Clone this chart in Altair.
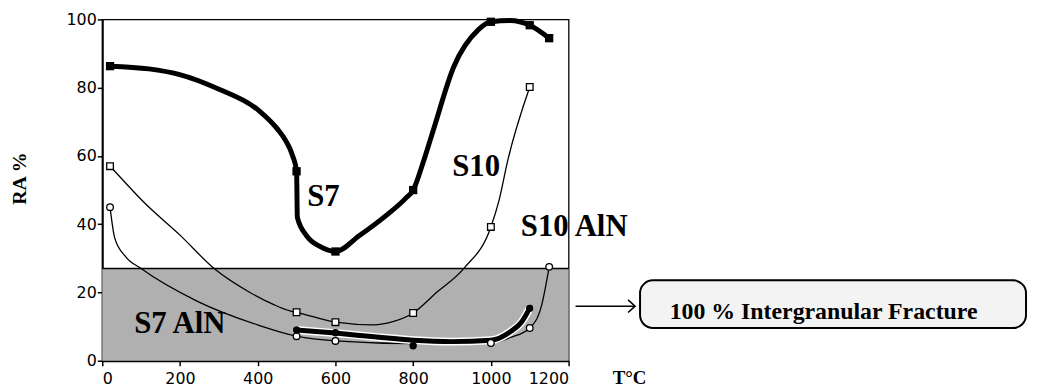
import altair as alt
import pandas as pd

# ---------------- data ----------------
X_TICKS = [0, 200, 400, 600, 800, 1000, 1200]
Y_TICKS = [0, 20, 40, 60, 80, 100]

# measured points (markers)
S7_T = [20, 500, 600, 800, 1000, 1100, 1150]
S7_RA = [86.3, 55.5, 32, 50, 99.3, 98.3, 94.5]
S10_T = [20, 500, 600, 800, 1000, 1100]
S10_RA = [57, 14.2, 11.3, 14, 39.2, 80.2]
S10ALN_T = [20, 500, 600, 1000, 1100, 1150]
S10ALN_RA = [45, 7.2, 5.8, 5.2, 9.6, 27.5]
S7ALN_T = [500, 600, 800, 1100]
S7ALN_RA = [9, 8.2, 4.4, 15.4]

# hand-drawn fitted curves
S7_CURVE_T = [20, 120, 197, 299, 403, 450, 472, 490, 500, 502, 526, 560, 600,
              661, 730, 780, 800, 824, 853, 904, 968, 1000, 1050, 1100, 1150]
S7_CURVE_RA = [86.3, 85.5, 83.9, 79.6, 73.3, 68, 64.5, 60, 55.5, 42, 36.6, 33.5, 32,
               36.6, 42.5, 47.5, 50, 57.5, 68, 86, 97, 99.3, 99.7, 98.3, 94.5]
S10_CURVE_T = [20, 77, 102, 200, 291, 380, 440, 483, 500, 600, 697, 750, 800, 860, 930,
               1000, 1021, 1043, 1100]
S10_CURVE_RA = [57, 50, 47, 36.8, 26.7, 20, 16.5, 14.6, 14.2, 11.3, 10.5, 11.5, 14, 20, 27,
                39.2, 47, 58.5, 80.2]
S10ALN_CURVE_T = [20, 32, 60, 100, 245, 400, 500, 600, 800, 1000, 1050, 1100, 1130, 1150]
S10ALN_CURVE_RA = [45, 36, 30.5, 27, 17.4, 10.5, 7.2, 5.8, 5, 5.2, 6.8, 9.6, 16, 27.5]
S7ALN_CURVE_T = [500, 600, 700, 800, 900, 1000, 1050, 1080, 1100]
S7ALN_CURVE_RA = [9, 8.1, 7, 6, 5.6, 6, 8.5, 11.5, 15.4]

ZONE_LOW, ZONE_HIGH = 0, 27          # 100 % intergranular fracture zone (RA %)
T_MIN, T_MAX = 0, 1200

SERIES_LABELS = ["S7", "S10", "S10 AlN", "S7 AlN"]
LABEL_T = [569, 962, 1077, 82]
LABEL_RA = [48, 56.8, 39.2, 10.8]
LABEL_ALIGN = ["center", "center", "left", "left"]
BOX_TEXT = "100 % Intergranular Fracture"

# ---------------- chart ----------------
xs = alt.Scale(domain=[T_MIN, T_MAX], nice=False, zero=False)
ys = alt.Scale(domain=[0, 100], nice=False)

SERIF = "Liberation Serif"
SANS = "DejaVu Sans"

X_AXIS = alt.Axis(
    values=X_TICKS, format="d", title="T°C", titleFont=SERIF, titleFontWeight="bold",
    titleFontSize=19, titleAngle=0, titleX=531, titleY=17, titleAlign="center",
    titleBaseline="middle",
    labelFont=SANS, labelFontSize=16, labelPadding=5, tickSize=5, tickWidth=1.5,
    domainWidth=2, grid=False, labelColor="black", titleColor="black",
    domainColor="black", tickColor="black")
Y_AXIS = alt.Axis(
    values=Y_TICKS, format="d", title="RA %", titleFont=SERIF, titleFontWeight="bold",
    titleFontSize=20, titleAngle=-90, titleX=-83, titleY=160, titleAlign="center",
    titleBaseline="middle",
    labelFont=SANS, labelFontSize=16, labelPadding=1, tickSize=5, tickWidth=1.5,
    domainWidth=2, grid=False, labelColor="black", titleColor="black",
    domainColor="black", tickColor="black")


def df(t, ra):
    return pd.DataFrame({"T": t, "RA": ra})


def X():
    return alt.X("T:Q", scale=xs, axis=X_AXIS, title="T°C")


def Y():
    return alt.Y("RA:Q", scale=ys, axis=Y_AXIS, title="RA %")


zone = alt.Chart(pd.DataFrame({"T": [T_MIN], "T2": [T_MAX], "RA": [ZONE_LOW], "RA2": [ZONE_HIGH]})).mark_rect(
    color="#b0b0b0"
).encode(x=X(), x2="T2:Q", y=Y(), y2="RA2:Q")

zone_top = alt.Chart(pd.DataFrame({"T": [T_MIN], "T2": [T_MAX], "RA": [ZONE_HIGH]})).mark_rule(
    color="black", strokeWidth=1.5
).encode(x=X(), x2="T2:Q", y=Y())

s10_line = alt.Chart(df(S10_CURVE_T, S10_CURVE_RA)).mark_line(
    color="black", strokeWidth=1.3, interpolate="monotone").encode(x=X(), y=Y())
s10aln_line = alt.Chart(df(S10ALN_CURVE_T, S10ALN_CURVE_RA)).mark_line(
    color="black", strokeWidth=1.3, interpolate="monotone").encode(x=X(), y=Y())
s7aln_halo = alt.Chart(df(S7ALN_CURVE_T, S7ALN_CURVE_RA)).mark_line(
    color="white", strokeWidth=8, strokeCap="round", interpolate="monotone").encode(x=X(), y=Y())
s7aln_line = alt.Chart(df(S7ALN_CURVE_T, S7ALN_CURVE_RA)).mark_line(
    color="black", strokeWidth=5, strokeCap="round", interpolate="monotone").encode(x=X(), y=Y())
s7_line = alt.Chart(df(S7_CURVE_T, S7_CURVE_RA)).mark_line(
    color="black", strokeWidth=5, strokeJoin="round", interpolate="monotone").encode(x=X(), y=Y())

s7_pts = alt.Chart(df(S7_T, S7_RA)).mark_point(
    shape="square", filled=True, color="black", size=70, opacity=1).encode(x=X(), y=Y())
s10_pts = alt.Chart(df(S10_T, S10_RA)).mark_point(
    shape="square", filled=True, fill="white", stroke="black", strokeWidth=1.3, size=45,
    opacity=1).encode(x=X(), y=Y())
s10aln_pts = alt.Chart(df(S10ALN_T, S10ALN_RA)).mark_point(
    shape="circle", filled=True, fill="white", stroke="black", strokeWidth=1.3, size=45,
    opacity=1).encode(x=X(), y=Y())
s7aln_pts = alt.Chart(df(S7ALN_T, S7ALN_RA)).mark_point(
    shape="circle", filled=True, color="black", size=55, opacity=1).encode(x=X(), y=Y())

lab_df = pd.DataFrame({"T": LABEL_T, "RA": LABEL_RA, "label": SERIES_LABELS, "align": LABEL_ALIGN})
labels_c = alt.Chart(lab_df[lab_df["align"] == "center"]).mark_text(
    font=SERIF, fontWeight="bold", fontSize=31, align="center", baseline="middle", color="black"
).encode(x=X(), y=Y(), text="label:N")
labels_l = alt.Chart(lab_df[lab_df["align"] == "left"]).mark_text(
    font=SERIF, fontWeight="bold", fontSize=31, align="left", baseline="middle", color="black"
).encode(x=X(), y=Y(), text="label:N")

one = pd.DataFrame({"a": [0]})
arrow = alt.Chart(one).mark_rule(color="black", strokeWidth=1.5).encode(
    x=alt.value(477), x2=alt.value(536), y=alt.value(289))
arrow_head = alt.Chart(one).mark_point(
    shape="M -1 -0.9 L 0 0 L -1 0.9", filled=False, stroke="black", strokeWidth=1.6,
    size=200, opacity=1).encode(x=alt.value(537), y=alt.value(289))
box = alt.Chart(one).mark_rect(
    fill="#f3f3f3", stroke="black", strokeWidth=2, cornerRadius=13).encode(
    x=alt.value(542), x2=alt.value(931), y=alt.value(263), y2=alt.value(311))
box_text = alt.Chart(one).mark_text(
    font=SERIF, fontWeight="bold", fontSize=24, align="center", baseline="alphabetic",
    color="black", text=BOX_TEXT).encode(x=alt.value(727), y=alt.value(302))

chart = alt.layer(
    zone, zone_top, s10_line, s10aln_line, s7aln_halo, s7aln_line, s7_line,
    s10_pts, s10aln_pts, s7_pts, s7aln_pts, labels_c, labels_l,
    arrow, arrow_head, box, box_text,
).properties(
    width=470, height=344,
    autosize=alt.AutoSizeParams(type="none"),
    padding={"left": 95, "top": 10, "right": 464, "bottom": 27},
    background="white",
).configure_view(stroke="black", strokeWidth=1.3)

chart.save("out.html", embed_options={"renderer": "svg", "actions": False})
